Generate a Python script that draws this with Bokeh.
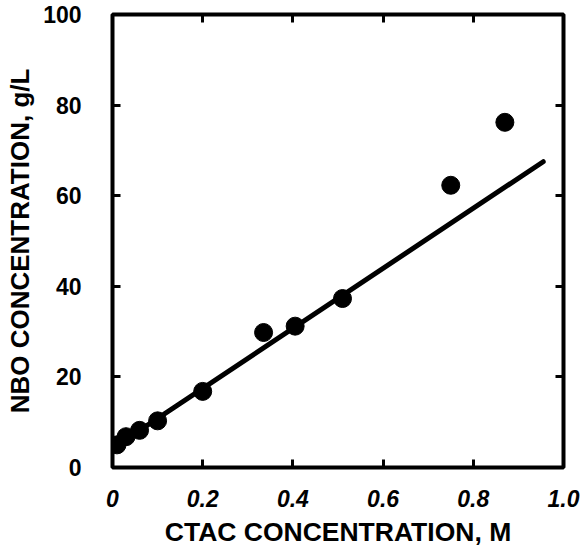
from bokeh.plotting import figure
from bokeh.models import Range1d, LinearAxis, FixedTicker, CustomLabelingPolicy
from bokeh.embed import file_html
from bokeh.resources import INLINE

# Data
ctac = [0.01, 0.03, 0.06, 0.10, 0.20, 0.335, 0.405, 0.51, 0.75, 0.87]
nbo = [5.0, 6.8, 8.2, 10.3, 16.8, 29.8, 31.2, 37.3, 62.3, 76.2]
fit_x = [0.0, 0.955]
fit_y = [4.2, 67.5]
x_ticks = [0, 0.2, 0.4, 0.6, 0.8, 1.0]
x_tick_labels = ["0", "0.2", "0.4", "0.6", "0.8", "1.0"]
y_ticks = [0, 20, 40, 60, 80, 100]

FONT = "Liberation Sans"

p = figure(frame_width=451, frame_height=453,
           x_range=Range1d(0, 1), y_range=Range1d(0, 100),
           output_backend="svg", toolbar_location=None,
           x_axis_label="CTAC CONCENTRATION, M",
           y_axis_label="NBO CONCENTRATION, g/L",
           min_border_left=112, min_border_right=20,
           min_border_top=14, min_border_bottom=10)

p.background_fill_color = "white"
p.border_fill_color = "white"
p.outline_line_color = "black"
p.outline_line_width = 4
p.xgrid.visible = False
p.ygrid.visible = False

p.line(fit_x, fit_y, line_color="black", line_width=5, line_cap="round")
p.scatter(ctac, nbo, size=18, fill_color="black", line_color="black")

xa = p.xaxis[0]
xa.ticker = FixedTicker(ticks=x_ticks)
xa.major_label_overrides = {t: l for t, l in zip(x_ticks, x_tick_labels)}
xa.major_label_text_font = FONT
xa.major_label_text_font_style = "bold italic"
xa.major_label_text_font_size = "23px"
xa.major_label_text_color = "black"
xa.major_label_standoff = 22
xa.axis_label_text_font = FONT
xa.axis_label_text_font_style = "bold"
xa.axis_label_text_font_size = "26.5px"
xa.axis_label_text_color = "black"
xa.axis_label_standoff = 7

ya = p.yaxis[0]
ya.ticker = FixedTicker(ticks=y_ticks)
ya.major_label_text_font = FONT
ya.major_label_text_font_style = "bold"
ya.major_label_text_font_size = "23px"
ya.major_label_text_color = "black"
ya.major_label_standoff = 31
ya.axis_label_text_font = FONT
ya.axis_label_text_font_style = "bold"
ya.axis_label_text_font_size = "26px"
ya.axis_label_text_color = "black"
ya.axis_label_standoff = 5

for ax in (xa, ya):
    ax.axis_line_color = None
    ax.major_tick_in = 8
    ax.major_tick_out = 0
    ax.major_tick_line_width = 3
    ax.major_tick_line_color = "black"
    ax.minor_tick_line_color = None

hide_all = CustomLabelingPolicy(code="""
const out = [];
for (const i of indices) out.push(i);
for (const i of out) indices.unset(i);
return indices;
""")

top = LinearAxis(ticker=FixedTicker(ticks=x_ticks))
right = LinearAxis(ticker=FixedTicker(ticks=y_ticks))
for ax in (top, right):
    ax.axis_line_color = None
    ax.major_tick_in = 8
    ax.major_tick_out = 0
    ax.major_tick_line_width = 3
    ax.major_tick_line_color = "black"
    ax.minor_tick_line_color = None
    ax.major_label_policy = hide_all
    ax.major_label_standoff = 0
p.add_layout(top, "above")
p.add_layout(right, "right")

open("out.html", "w").write(file_html(p, INLINE))
